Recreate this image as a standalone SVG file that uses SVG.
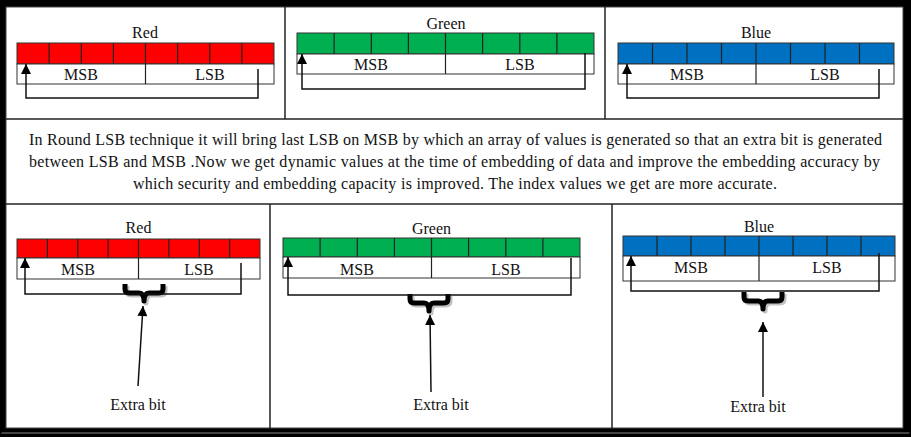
<svg xmlns="http://www.w3.org/2000/svg" width="911" height="437" viewBox="0 0 911 437">
  <style>
    .t { font-family: "Liberation Serif", "Times New Roman", serif; font-size: 16px; fill: #111; }
    .c { text-anchor: middle; }
    .sep { stroke: #222; stroke-width: 1.5; fill: none; }
    .bar-r { fill: #FF0000; stroke: #333; stroke-width: 1; }
    .bar-g { fill: #00B050; stroke: #333; stroke-width: 1; }
    .bar-b { fill: #0070C0; stroke: #333; stroke-width: 1; }
    .cell { stroke: #222; stroke-width: 1.2; fill: none; }
    .lbl { fill: #fff; stroke: #333; stroke-width: 1; }
    .conn { stroke: #111; stroke-width: 1.5; fill: none; marker-end: url(#ah); }
    .brace { stroke: #000; stroke-width: 5; fill: none; stroke-linejoin: round; }
    .brace-sh { stroke: #999; stroke-width: 5; fill: none; opacity: 0.6; stroke-linejoin: round; }
  </style>
  <defs>
    <marker id="ah" viewBox="0 0 10 10" refX="10" refY="5" markerWidth="12" markerHeight="10" markerUnits="userSpaceOnUse" orient="auto">
      <path d="M0,0 L10,5 L0,10 z" fill="#000"/>
    </marker>
    <path id="brace" d="M-19,0 L-19,5 Q-19,9 -15,9 L-5,9 Q0,9 0,17 Q0,9 5,9 L15,9 Q19,9 19,5 L19,0"/>
  </defs>

  <!-- outer frame -->
  <rect x="0" y="0" width="911" height="437" fill="#000"/>
  <rect x="6" y="7" width="897" height="421" fill="#fff" stroke="#444" stroke-width="1"/>
  <rect x="1.5" y="432.5" width="908" height="1" fill="#888"/>

  <!-- panel separators -->
  <g id="separators">
    <line class="sep" x1="6" y1="119" x2="903" y2="119"/>
    <line class="sep" x1="6" y1="204" x2="903" y2="204"/>
    <line class="sep" x1="285" y1="7" x2="285" y2="119"/>
    <line class="sep" x1="605" y1="7" x2="605" y2="119"/>
    <line class="sep" x1="270" y1="204" x2="270" y2="428"/>
    <line class="sep" x1="612" y1="204" x2="612" y2="428"/>
  </g>

  <!-- top red -->
  <g id="top-red">
    <text class="t c" x="145" y="38">Red</text>
    <rect class="bar-r" x="17" y="43" width="257" height="21"/>
    <path class="cell" d="M49.1,43V64M81.3,43V64M113.4,43V64M145.5,43V64M177.6,43V64M209.8,43V64M241.9,43V64"/>
    <rect class="lbl" x="17" y="64" width="257" height="20"/>
    <line class="cell" x1="145.5" y1="64" x2="145.5" y2="84"/>
    <text class="t c" x="81" y="80">MSB</text>
    <text class="t c" x="210" y="80">LSB</text>
  </g>

  <!-- top green -->
  <g id="top-green">
    <text class="t c" x="446" y="29">Green</text>
    <rect class="bar-g" x="297" y="33" width="297" height="21"/>
    <path class="cell" d="M334.1,33V54M371.3,33V54M408.4,33V54M445.5,33V54M482.6,33V54M519.8,33V54M556.9,33V54"/>
    <rect class="lbl" x="297" y="54" width="297" height="20"/>
    <line class="cell" x1="445.5" y1="54" x2="445.5" y2="74"/>
    <text class="t c" x="371" y="70">MSB</text>
    <text class="t c" x="520" y="70">LSB</text>
  </g>

  <!-- top blue -->
  <g id="top-blue">
    <text class="t c" x="756" y="38">Blue</text>
    <rect class="bar-b" x="618" y="43" width="276" height="21"/>
    <path class="cell" d="M652.5,43V64M687,43V64M721.5,43V64M756,43V64M790.5,43V64M825,43V64M859.5,43V64"/>
    <rect class="lbl" x="618" y="64" width="276" height="20"/>
    <line class="cell" x1="756" y1="64" x2="756" y2="84"/>
    <text class="t c" x="687" y="80">MSB</text>
    <text class="t c" x="825" y="80">LSB</text>
  </g>

  <!-- description -->
  <g id="description">
    <text class="t c" x="455.5" y="145" textLength="853" lengthAdjust="spacing">In Round LSB technique it will bring last LSB on MSB by which an array of values is generated so that an extra bit is generated</text>
    <text class="t c" x="454.5" y="167" textLength="851" lengthAdjust="spacing">between LSB and MSB .Now we get dynamic values at the time of embedding of data and improve the embedding accuracy by</text>
    <text class="t c" x="455" y="189" textLength="644" lengthAdjust="spacing">which security and embedding capacity is improved. The index values we get are more accurate.</text>
  </g>

  <!-- bottom red -->
  <g id="bottom-red">
    <text class="t c" x="138.5" y="233">Red</text>
    <rect class="bar-r" x="17" y="239" width="243" height="19"/>
    <path class="cell" d="M47.4,239V258M77.8,239V258M108.1,239V258M138.5,239V258M168.9,239V258M199.3,239V258M229.6,239V258"/>
    <rect class="lbl" x="17" y="258" width="243" height="21"/>
    <line class="cell" x1="138.5" y1="258" x2="138.5" y2="279"/>
    <text class="t c" x="78" y="275">MSB</text>
    <text class="t c" x="199" y="275">LSB</text>
    <use href="#brace" class="brace-sh" transform="translate(146,286)"/>
    <use href="#brace" class="brace" transform="translate(144,284)"/>
    <text class="t c" x="138" y="410">Extra bit</text>
  </g>

  <!-- bottom green -->
  <g id="bottom-green">
    <text class="t c" x="431.5" y="234">Green</text>
    <rect class="bar-g" x="283" y="238" width="297" height="19"/>
    <path class="cell" d="M320.1,238V257M357.3,238V257M394.4,238V257M431.5,238V257M468.6,238V257M505.8,238V257M542.9,238V257"/>
    <rect class="lbl" x="283" y="257" width="297" height="21"/>
    <line class="cell" x1="431.5" y1="257" x2="431.5" y2="278"/>
    <text class="t c" x="357" y="275">MSB</text>
    <text class="t c" x="506" y="275">LSB</text>
    <use href="#brace" class="brace-sh" transform="translate(431,296)"/>
    <use href="#brace" class="brace" transform="translate(429,294)"/>
    <text class="t c" x="441" y="410">Extra bit</text>
  </g>

  <!-- bottom blue -->
  <g id="bottom-blue">
    <text class="t c" x="759" y="232">Blue</text>
    <rect class="bar-b" x="623" y="236" width="272" height="20"/>
    <path class="cell" d="M657,236V256M691,236V256M725,236V256M759,236V256M793,236V256M827,236V256M861,236V256"/>
    <rect class="lbl" x="623" y="256" width="272" height="25"/>
    <line class="cell" x1="759" y1="256" x2="759" y2="281"/>
    <text class="t c" x="691" y="273">MSB</text>
    <text class="t c" x="827" y="273">LSB</text>
    <use href="#brace" class="brace-sh" transform="translate(765,294)"/>
    <use href="#brace" class="brace" transform="translate(763,292)"/>
    <text class="t c" x="758" y="412">Extra bit</text>
  </g>

  <!-- connectors -->
  <g id="connectors">
    <path class="conn" d="M258,69 V98 H26 V64"/>
    <path class="conn" d="M585,53 V89 H302 V54"/>
    <path class="conn" d="M879,69 V98 H627 V64"/>
    <path class="conn" d="M241,263 V294 H25 V258"/>
    <path class="conn" d="M571,258 V295 H288 V257"/>
    <path class="conn" d="M879,253 V291 H631 V256"/>
    <path class="conn" d="M138,386 L143,306"/>
    <path class="conn" d="M431,392 L430,315"/>
    <path class="conn" d="M763,397 L763,322"/>
  </g>
</svg>
